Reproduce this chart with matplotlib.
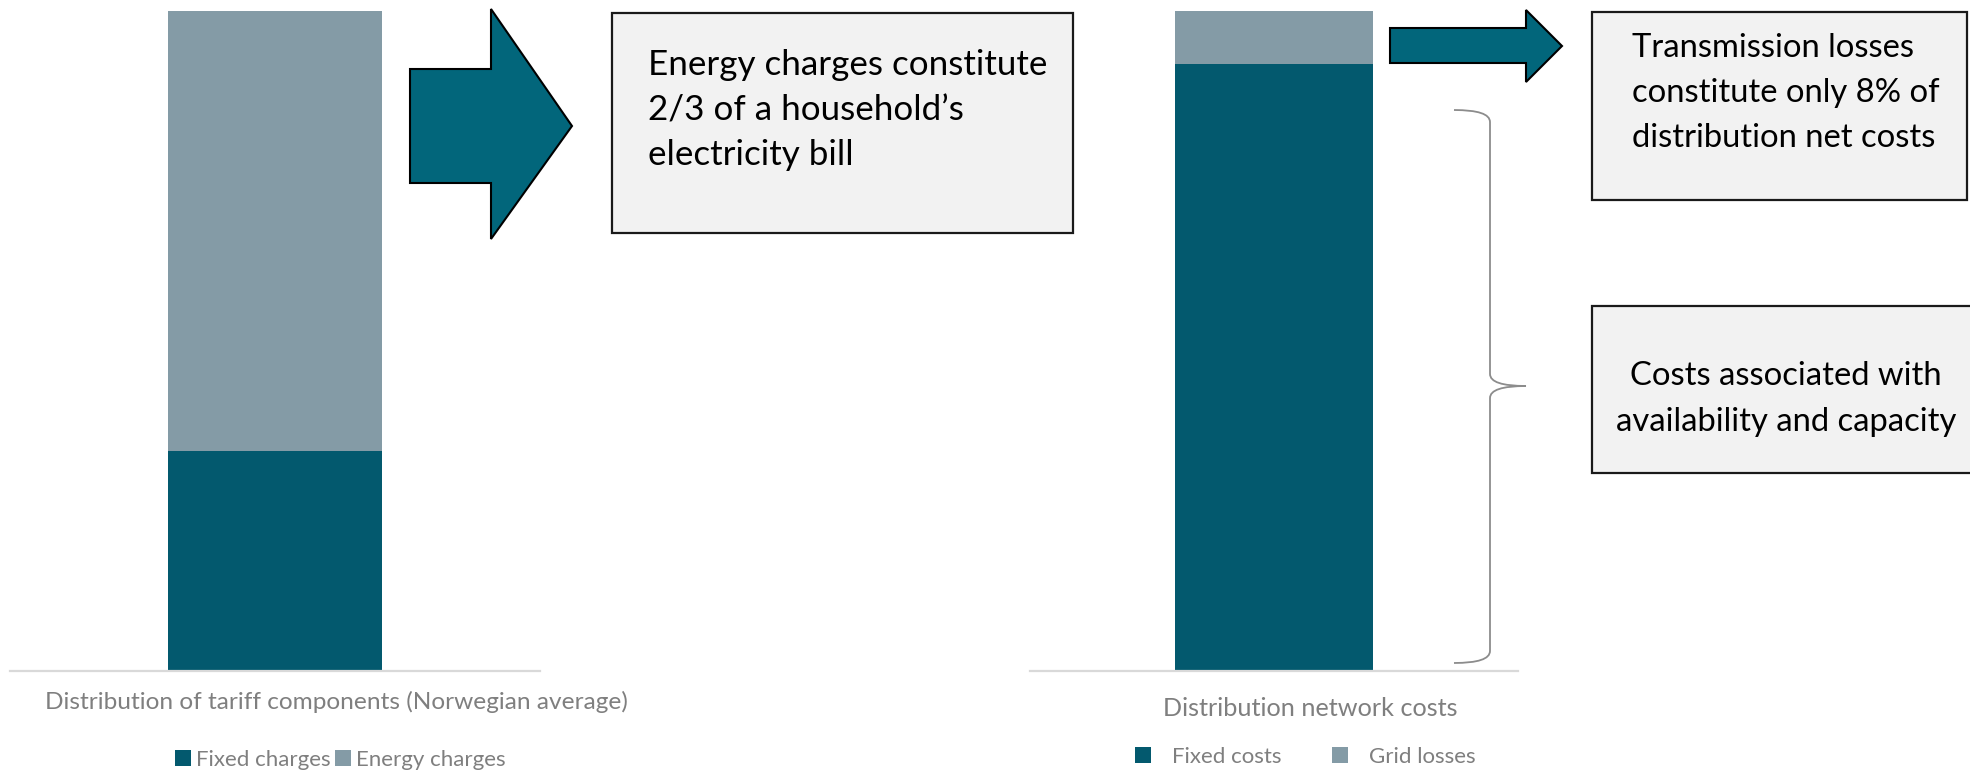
import numpy as np
import matplotlib
matplotlib.use('Agg')
import matplotlib.pyplot as plt
from matplotlib.patches import Polygon, Rectangle, PathPatch
from matplotlib.path import Path

plt.rcParams['font.family'] = ['Lato', 'DejaVu Sans']

# data
tariff_labels = ['Fixed charges', 'Energy charges']
tariff_shares = [33.3, 66.7]
network_labels = ['Fixed costs', 'Grid losses']
network_shares = [92, 8]

dark = '#03596e'
grey = '#849ba6'
arrow_col = '#02667b'
cap_col = '#7f7f7f'

W, H = 1970, 772
fig = plt.figure(figsize=(W / 100, H / 100), dpi=100)

def bar_axes(x0, x1):
    ax = fig.add_axes([x0 / W, 1 - 671 / H, (x1 - x0) / W, 660 / H])
    ax.set_xlim(-0.5, 0.5)
    ax.set_ylim(0, 100)
    for s in ['top', 'left', 'right']:
        ax.spines[s].set_visible(False)
    ax.spines['bottom'].set_color('#d9d9d9')
    ax.spines['bottom'].set_linewidth(1.6)
    ax.set_xticks([])
    ax.set_yticks([])
    ax.patch.set_visible(False)
    return ax

ax1 = bar_axes(10, 540)
b1 = ax1.bar(0, tariff_shares[0], width=0.404, color=dark, label=tariff_labels[0])
b2 = ax1.bar(0, tariff_shares[1], width=0.404, bottom=tariff_shares[0], color=grey, label=tariff_labels[1])

ax2 = bar_axes(1030, 1518)
b3 = ax2.bar(0, network_shares[0], width=0.404, color=dark, label=network_labels[0])
b4 = ax2.bar(0, network_shares[1], width=0.404, bottom=network_shares[0], color=grey, label=network_labels[1])

fig.legend(handles=[b1, b2], loc='center left', bbox_to_anchor=(175 / W, 1 - 760 / H),
           ncol=2, frameon=False, fontsize=16, labelcolor=cap_col,
           handlelength=0.7, handleheight=0.7, handletextpad=0.25, columnspacing=0.2,
           borderpad=0, borderaxespad=0)
fig.legend(handles=[b3, b4], loc='center left', bbox_to_anchor=(1135 / W, 1 - 757 / H),
           ncol=2, frameon=False, fontsize=16, labelcolor=cap_col,
           handlelength=0.7, handleheight=0.7, handletextpad=0.95, columnspacing=2.3,
           borderpad=0, borderaxespad=0)

# overlay in pixel coordinates for the annotations
ov = fig.add_axes([0, 0, 1, 1])
ov.set_xlim(0, W)
ov.set_ylim(H, 0)
ov.axis('off')

ov.text(336, 709, 'Distribution of tariff components (Norwegian average)', ha='center', va='baseline',
        fontsize=17.6, color=cap_col)
ov.text(1310, 716, 'Distribution network costs', ha='center', va='baseline',
        fontsize=18.2, color=cap_col)

# arrows
left_arrow = [(410, 69), (491, 69), (491, 9), (572, 126), (491, 239), (491, 183), (410, 183)]
ov.add_patch(Polygon(left_arrow, closed=True, facecolor=arrow_col, edgecolor='black', lw=1.5))
right_arrow = [(1390, 28), (1526, 28), (1526, 10), (1562, 46), (1526, 82), (1526, 63), (1390, 63)]
ov.add_patch(Polygon(right_arrow, closed=True, facecolor=arrow_col, edgecolor='black', lw=1.5))

# boxes
ov.add_patch(Rectangle((612, 13), 461, 220, facecolor='#f2f2f2', edgecolor='#1a1a1a', lw=1.6))
ov.add_patch(Rectangle((1592, 12), 375, 188, facecolor='#f2f2f2', edgecolor='#1a1a1a', lw=1.6))
ov.add_patch(Rectangle((1592, 306), 390, 167, facecolor='#f2f2f2', edgecolor='#1a1a1a', lw=1.6))

for txt, y in zip(['Energy charges constitute', '2/3 of a household\u2019s', 'electricity bill'], [75, 120, 165]):
    ov.text(648, y, txt, ha='left', va='baseline', fontsize=25.2, color='black')
for txt, y in zip(['Transmission losses', 'constitute only 8% of', 'distribution net costs'], [57, 102, 147]):
    ov.text(1632, y, txt, ha='left', va='baseline', fontsize=23.6, color='black')
for txt, y in zip(['Costs associated with', 'availability and capacity'], [385, 431]):
    ov.text(1786, y, txt, ha='center', va='baseline', fontsize=23.6, color='black')

# curly brace
xe, xl, xt = 1454, 1490, 1526
yt, ym, yb = 110, 386, 663
verts = [(xe, yt), (xl, yt), (xl, yt + 12),
         (xl, ym - 12),
         (xl, ym), (xt, ym),
         (xl, ym), (xl, ym + 12),
         (xl, yb - 12),
         (xl, yb), (xe, yb)]
codes = [Path.MOVETO, Path.CURVE3, Path.CURVE3,
         Path.LINETO,
         Path.CURVE3, Path.CURVE3,
         Path.CURVE3, Path.CURVE3,
         Path.LINETO,
         Path.CURVE3, Path.CURVE3]
ov.add_patch(PathPatch(Path(verts, codes), facecolor='none', edgecolor='#8c8c8c', lw=1.3))

plt.savefig('out.png', dpi=100)
